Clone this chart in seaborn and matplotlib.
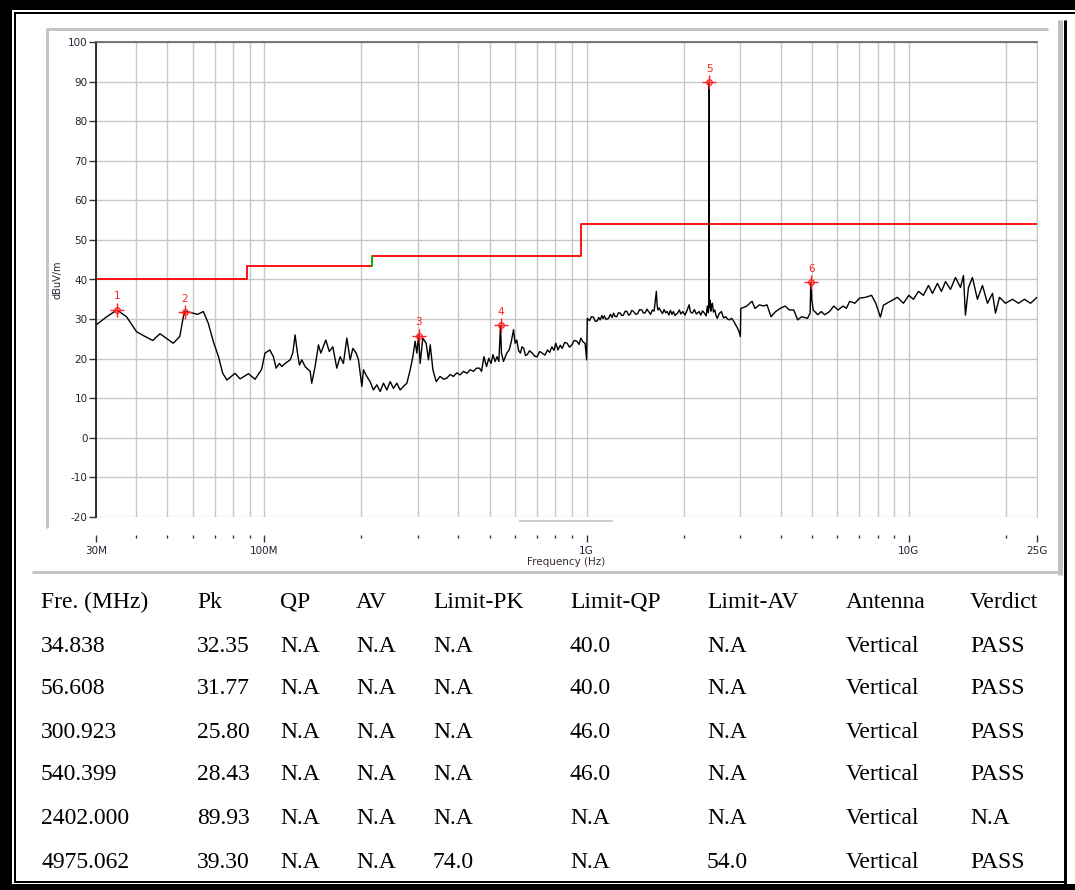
import numpy as np
import pandas as pd
import matplotlib
matplotlib.use("Agg")
import matplotlib.pyplot as plt
import seaborn as sns
from matplotlib.ticker import FixedLocator, FixedFormatter, NullFormatter
from matplotlib.lines import Line2D
from matplotlib.patches import Rectangle

# Messkurve (Frequenz in MHz, Pegel in dBuV/m)
freq_mhz = [
    30.0, 32.4, 34.838, 37.3, 40.1, 42.6, 45.0, 47.4, 52.1, 54.6,
    56.0, 56.608, 58.7, 62.0, 64.6, 66.9, 69.4, 72.0, 74.2, 76.5,
    81.0, 84.0, 89.2, 93.5, 98.0, 100.4, 103.9, 106.6, 108.7, 111.3,
    113.2, 115.9, 120.2, 122.5, 124.5, 126.6, 128.4, 130.6, 133.7, 138.6,
    140.2, 143.6, 147.1, 149.6, 155.0, 159.0, 163.0, 167.7, 171.8, 175.8,
    180.2, 184.5, 188.1, 192.6, 195.8, 200.6, 202.9, 207.9, 212.8, 217.9,
    223.3, 228.6, 234.1, 239.9, 245.6, 251.4, 257.6, 263.8, 270.0, 276.7,
    283.4, 288.8, 293.6, 297.2, 300.923, 304.3, 310.1, 317.6, 322.9, 327.0,
    333.3, 341.2, 351.0, 360.0, 368.4, 377.0, 386.0, 395.0, 405.0, 415.0,
    425.0, 435.0, 445.5, 455.0, 465.0, 472.0, 480.0, 489.0, 497.0, 505.0,
    512.0, 520.0, 527.0, 534.0, 540.399, 544.0, 552.0, 565.0, 575.0, 584.0,
    593.0, 600.0, 607.0, 615.0, 623.0, 630.0, 638.0, 646.0, 654.0, 665.0,
    678.0, 690.0, 702.0, 715.0, 728.0, 742.0, 756.0, 768.0, 780.0, 792.0,
    802.0, 815.0, 828.0, 840.0, 855.0, 870.0, 885.0, 900.0, 915.0, 933.0,
    947.0, 960.0, 975.0, 989.0, 1000.0,
    1005.0, 1020.0, 1035.0, 1050.0, 1065.0, 1080.0, 1090.0, 1102.0, 1115.0, 1125.0,
    1135.0, 1150.0, 1170.0, 1185.0, 1200.0, 1213.0, 1225.0, 1240.0, 1255.0, 1272.0,
    1285.0, 1300.0, 1318.0, 1335.0, 1350.0, 1365.0, 1380.0, 1399.0, 1420.0, 1440.0,
    1460.0, 1485.0, 1500.0, 1520.0, 1540.0, 1557.0, 1580.0, 1600.0, 1620.0, 1630.0,
    1646.0, 1655.0, 1665.0, 1680.0, 1700.0, 1720.0, 1740.0, 1760.0, 1779.0, 1800.0,
    1820.0, 1840.0, 1860.0, 1880.0, 1914.0, 1940.0, 1960.0, 1990.0, 2020.0, 2050.0,
    2080.0, 2100.0, 2130.0, 2160.0, 2190.0, 2236.0, 2260.0, 2290.0, 2320.0, 2350.0,
    2370.0, 2385.0, 2398.0, 2399.0, 2400.0, 2400.5, 2401.0, 2402.0, 2403.0, 2415.0,
    2430.0, 2445.0, 2457.0, 2475.0, 2500.0, 2520.0, 2545.0, 2580.0, 2620.0, 2660.0,
    2700.0, 2740.0, 2780.0, 2820.0, 2864.0, 2900.0, 2940.0, 2970.0, 3000.0, 3010.0,
    3130.0, 3262.0, 3330.0, 3440.0, 3540.0, 3630.0, 3735.0, 3860.0, 3991.0, 4130.0,
    4260.0, 4394.0, 4520.0, 4650.0, 4848.0, 4940.0, 4960.0, 4975.062, 5000.0, 5050.0,
    5218.0, 5350.0, 5480.0, 5675.0, 5850.0, 6030.0, 6250.0, 6400.0, 6556.0, 6800.0,
    7039.0, 7344.0, 7662.0, 7900.0, 8164.0, 8340.0, 8770.0, 9218.0, 9625.0, 10000.0,
    10340.0, 10714.0, 11100.0, 11510.0, 11840.0, 12270.0, 12630.0, 13000.0, 13470.0, 13960.0,
    14470.0, 14780.0, 14990.0, 15320.0, 15760.0, 16330.0, 16930.0, 17550.0, 18190.0, 18580.0,
    19120.0, 19960.0, 20980.0, 21910.0, 22860.0, 23870.0, 25000.0,
]
level_dbuv = [
    28.5, 30.6, 32.3, 30.6, 26.8, 25.6, 24.6, 26.3, 23.9, 25.6,
    30.6, 31.9, 31.7, 31.2, 31.9, 29.0, 24.3, 20.5, 16.3, 14.6,
    16.3, 14.9, 16.2, 14.8, 17.3, 21.4, 22.2, 20.5, 17.6, 18.8,
    18.0, 18.8, 19.7, 21.5, 26.0, 21.4, 18.4, 19.7, 18.0, 16.8,
    13.8, 18.0, 23.5, 21.4, 24.7, 21.8, 23.0, 17.6, 20.5, 18.8,
    25.2, 19.7, 22.6, 21.4, 19.7, 13.0, 17.2, 15.5, 14.2, 12.1,
    13.4, 11.7, 13.8, 12.1, 14.2, 12.5, 13.8, 12.1, 13.0, 13.8,
    17.2, 20.5, 24.4, 21.4, 25.8, 18.8, 25.2, 23.9, 19.7, 23.5,
    17.2, 14.2, 15.5, 14.8, 15.1, 16.0, 15.5, 16.4, 15.9, 16.8,
    16.3, 17.2, 16.8, 17.6, 17.6, 16.8, 20.5, 18.0, 20.1, 18.8,
    21.0, 19.3, 20.5, 19.3, 28.4, 21.4, 19.3, 21.4, 22.2, 24.4,
    27.3, 23.9, 24.7, 22.0, 21.4, 23.0, 22.6, 20.8, 21.0, 22.0,
    21.4, 20.6, 20.5, 21.8, 21.4, 20.9, 22.2, 21.6, 23.0, 22.1,
    23.9, 22.2, 23.4, 22.6, 24.1, 23.9, 22.9, 23.5, 24.6, 24.4,
    23.6, 25.2, 24.2, 23.9, 19.7,
    30.2, 29.6, 30.6, 30.5, 29.4, 29.6, 30.4, 29.8, 30.9, 30.1,
    30.8, 29.9, 30.2, 31.2, 30.4, 31.5, 30.7, 30.6, 31.6, 31.5,
    30.9, 31.0, 32.0, 31.9, 31.0, 31.2, 32.2, 31.9, 31.2, 31.4,
    32.4, 32.3, 31.5, 31.6, 32.5, 31.9, 31.2, 32.3, 32.0, 34.0,
    37.0, 33.5, 32.3, 32.8, 32.0, 31.4, 32.4, 31.6, 31.9, 31.0,
    32.2, 31.2, 31.9, 30.9, 31.5, 32.3, 31.3, 31.9, 31.0, 32.2,
    33.6, 31.8, 31.5, 32.4, 31.3, 31.9, 31.0, 32.1, 31.5, 30.8,
    33.3, 31.6, 33.0, 80.0, 33.0, 80.0, 33.0, 89.93, 33.5, 34.8,
    32.0, 33.6, 34.0, 31.8, 32.3, 30.9, 30.2, 31.4, 31.9, 30.3,
    30.6, 30.0, 29.8, 30.2, 29.4, 28.6, 27.7, 26.9, 25.6, 32.7,
    33.2, 34.5, 32.7, 33.6, 33.3, 33.6, 30.6, 31.9, 32.7, 33.3,
    32.3, 32.3, 29.8, 30.6, 30.2, 31.5, 38.3, 39.3, 34.8, 32.3,
    31.1, 31.9, 31.1, 31.9, 33.3, 32.3, 33.3, 32.7, 34.5, 34.0,
    35.3, 35.5, 36.0, 34.0, 30.5, 33.5, 34.5, 35.5, 34.0, 36.0,
    35.0, 37.0, 36.0, 38.5, 36.5, 39.0, 37.0, 39.5, 37.5, 40.5,
    38.0, 41.0, 31.0, 38.0, 40.5, 35.0, 38.5, 34.0, 36.5, 31.5,
    35.5, 34.0, 35.0, 34.0, 35.0, 34.0, 35.5,
]

# Grenzwertlinie (Stufen)
limit_freq_mhz = [30.0, 88.0, 216.0, 960.0, 25000.0]
limit_dbuv = [40.0, 43.5, 46.0, 54.0, 54.0]

# Markierte Spitzen
marker_freq_mhz = [34.838, 56.608, 300.923, 540.399, 2402.000, 4975.062]
marker_pk = [32.35, 31.77, 25.80, 28.43, 89.93, 39.30]

# Achsenbeschriftung
y_ticks = list(range(-20, 101, 10))
x_major = [30, 100, 1000, 10000, 25000]
x_major_labels = ["30M", "100M", "1G", "10G", "25G"]
x_minor = [40, 50, 60, 70, 80, 90, 200, 300, 400, 500, 600, 700, 800, 900,
           2000, 3000, 4000, 5000, 6000, 7000, 8000, 9000, 20000]

# Tabelle
table_header = ["Fre. (MHz)", "Pk", "QP", "AV", "Limit-PK", "Limit-QP",
                "Limit-AV", "Antenna", "Verdict"]
col_fre = ["34.838", "56.608", "300.923", "540.399", "2402.000", "4975.062"]
col_pk = ["32.35", "31.77", "25.80", "28.43", "89.93", "39.30"]
col_qp = ["N.A"] * 6
col_av = ["N.A"] * 6
col_limit_pk = ["N.A", "N.A", "N.A", "N.A", "N.A", "74.0"]
col_limit_qp = ["40.0", "40.0", "46.0", "46.0", "N.A", "N.A"]
col_limit_av = ["N.A", "N.A", "N.A", "N.A", "N.A", "54.0"]
col_antenna = ["Vertical"] * 6
col_verdict = ["PASS", "PASS", "PASS", "PASS", "N.A", "PASS"]

trace = pd.DataFrame({"freq": freq_mhz, "level": level_dbuv})
limit = pd.DataFrame({"freq": limit_freq_mhz, "level": limit_dbuv})

sns.set_style("white")
plt.rcParams["font.family"] = ["DejaVu Sans"]
plt.rcParams["axes.unicode_minus"] = False

W, H = 1075, 890
fig = plt.figure(figsize=(W / 100, H / 100), dpi=100)
fig.patch.set_facecolor("white")


def fx(x):
    return x / W


def fy(y):
    return 1 - y / H


PT = 0.72  # 1 px in pt

# Diagramm
ax = fig.add_axes([fx(96), fy(517), 941 / W, 475 / H])
ax.set_xscale("log")
ax.set_xlim(30, 25000)
ax.set_ylim(-20, 100)
ax.set_axisbelow(True)

sns.lineplot(data=limit, x="freq", y="level", ax=ax, color="#ff0000",
             lw=1.3, drawstyle="steps-post", estimator=None, sort=False)
ax.plot([216, 216], [43.5, 46.0], color="#00c000", lw=1.3)
sns.lineplot(data=trace, x="freq", y="level", ax=ax, color="black",
             lw=1.0, estimator=None, sort=False)

ax.plot(marker_freq_mhz, marker_pk, ls="none", marker="+", ms=10,
        mew=1.0, color="#ff2020", zorder=5)
ax.plot(marker_freq_mhz, marker_pk, ls="none", marker="o", ms=4,
        mew=0.9, mfc="none", mec="#ff2020", zorder=5)
for i, (f, v) in enumerate(zip(marker_freq_mhz, marker_pk), start=1):
    ax.annotate(str(i), (f, v), xytext=(0, 6), textcoords="offset points",
                ha="center", va="bottom", color="#ff2020", fontsize=7.5)

ax.set_xlabel("")
ax.set_ylabel("")
ax.yaxis.set_major_locator(FixedLocator(y_ticks))
ax.xaxis.set_major_locator(FixedLocator(x_major))
ax.xaxis.set_major_formatter(FixedFormatter(x_major_labels))
ax.xaxis.set_minor_locator(FixedLocator(x_minor))
ax.xaxis.set_minor_formatter(NullFormatter())

ax.grid(True, which="both", axis="x", color="#c8c8c8", lw=1.0)
ax.grid(True, which="major", axis="y", color="#c8c8c8", lw=1.0)

ax.spines["left"].set_color("#202020")
ax.spines["left"].set_linewidth(1.3)
ax.spines["top"].set_color("#606060")
ax.spines["top"].set_linewidth(1.2)
ax.spines["right"].set_color("#c8c8c8")
ax.spines["bottom"].set_position(("outward", 13))
ax.spines["bottom"].set_color("none")

ax.tick_params(axis="y", which="major", left=True, direction="out",
               length=5, width=1, color="#333333", labelsize=7.5,
               labelcolor="#222233", pad=1)
ax.tick_params(axis="x", which="major", bottom=True, direction="out",
               length=5, width=1, color="#333333", labelsize=7.5,
               labelcolor="#222233", pad=3)
ax.tick_params(axis="x", which="minor", bottom=True, direction="out",
               length=2.5, width=1, color="#333333")

fig.text(fx(57), fy(280), "dBuV/m", rotation=90, ha="center", va="center",
         fontsize=7, color="#222233")
fig.text(fx(566), fy(562), "Frequency (Hz)", ha="center", va="center",
         fontsize=7.5, color="#3b2b2b")

# Rahmen und Panel
def fig_line(xs, ys, color, lw_px):
    fig.add_artist(Line2D([fx(x) for x in xs], [fy(y) for y in ys],
                          color=color, lw=lw_px * PT,
                          transform=fig.transFigure, solid_capstyle="butt"))


fig_line([47, 1048], [29, 29], "#c4c4c4", 3)
fig_line([47, 47], [28, 528], "#c4c4c4", 3)
fig_line([32, 1058], [572, 572], "#c4c4c4", 3)
fig_line([1060, 1060], [20, 575], "#c0c0c0", 5)
fig_line([1065, 1065], [20, 884], "black", 3)
fig_line([519, 613], [521, 521], "#cccccc", 2)

fig.add_artist(Rectangle((0, fy(10)), 1, 10 / H, transform=fig.transFigure,
                         color="black", lw=0))
fig.add_artist(Rectangle((0, 0), fx(12), 1, transform=fig.transFigure,
                         color="black", lw=0))
fig.add_artist(Rectangle((0, 0), 1, 6 / H, transform=fig.transFigure,
                         color="black", lw=0))
fig_line([14, 1075], [12.5, 12.5], "black", 2)
fig_line([14.5, 14.5], [12, 882], "black", 2)
fig_line([14, 1066], [881.5, 881.5], "black", 2)

# Tabelle
col_x = [41, 197, 280, 356, 433, 570, 707, 846, 970]
row_y = [602, 646, 689, 732, 775, 819, 862]
columns = [col_fre, col_pk, col_qp, col_av, col_limit_pk, col_limit_qp,
           col_limit_av, col_antenna, col_verdict]
for x, head, col in zip(col_x, table_header, columns):
    fig.text(fx(x), fy(row_y[0]), head, ha="left", va="center",
             fontsize=17, family="Liberation Serif", color="black")
    for y, val in zip(row_y[1:], col):
        fig.text(fx(x), fy(y), val, ha="left", va="center",
                 fontsize=17, family="Liberation Serif", color="black")

fig.savefig("out.png", dpi=100)
